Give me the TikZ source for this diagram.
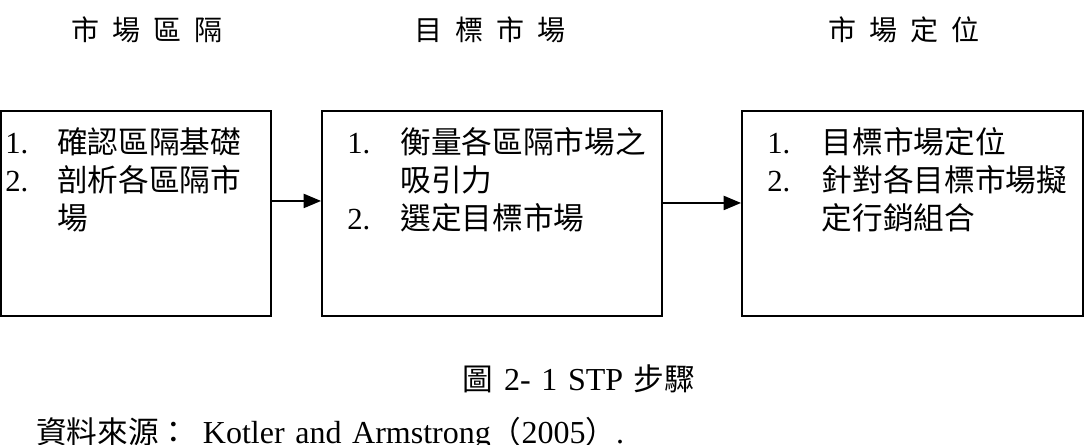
\documentclass[tikz,border=0pt]{standalone}
\usepackage{fontspec}
\setmainfont{Liberation Serif}
\newfontfamily\cjk{Noto Sans CJK TC}
\usetikzlibrary{arrows.meta}
\newcommand{\hsp}{\hspace{10pt}}
\newcommand{\zh}[1]{{\cjk\fontsize{23}{28.5}\selectfont #1}}
\newcommand{\widesp}{\spaceskip=8pt plus 2pt\relax}
\begin{document}
\begin{tikzpicture}[x=0.75pt,y=-0.75pt,
  boxnode/.style={draw, line width=1.4pt, inner sep=0pt, minimum height=153.75pt},
  txt/.style={inner sep=0pt, anchor=north west, font=\fontsize{23}{28.5}\selectfont},
  head/.style={inner sep=0pt, font=\cjk\fontsize{21}{24}\selectfont},
  captext/.style={inner sep=0pt, anchor=base, font=\fontsize{24}{28}\selectfont},
  arr/.style={line width=1.5pt, -{Stealth[length=13pt,width=10.5pt,inset=0pt]}}]
\useasboundingbox (0,0) rectangle (1089,445);
% boxes
\node[boxnode, minimum width=202.5pt] (b1) at (136,213.5) {};
\node[boxnode, minimum width=255pt] (b2) at (492,213.5) {};
\node[boxnode, minimum width=255.75pt] (b3) at (912.5,213.5) {};
% headers
\node[head] (h1) at (147,30) {市\hsp 場\hsp 區\hsp 隔};
\node[head] (h2) at (490,30) {目\hsp 標\hsp 市\hsp 場};
\node[head] (h3) at (904,30) {市\hsp 場\hsp 定\hsp 位};
% box texts
\node[txt] (t1) at (5,127) {\begin{tabular}{@{}p{39pt}@{}l@{}}
1. & \zh{確認區隔基礎}\\
2. & \zh{剖析各區隔市}\\
   & \zh{場}
\end{tabular}};
\node[txt] (t2) at (347,127) {\begin{tabular}{@{}p{40pt}@{}l@{}}
1. & \zh{衡量各區隔市場之}\\
   & \zh{吸引力}\\
2. & \zh{選定目標市場}
\end{tabular}};
\node[txt] (t3) at (767,127) {\begin{tabular}{@{}p{41pt}@{}l@{}}
1. & \zh{目標市場定位}\\
2. & \zh{針對各目標市場擬}\\
   & \zh{定行銷組合}
\end{tabular}};
% arrows
\draw[arr] ([yshift=9.4pt]b1.east) -- ([yshift=9.4pt]b2.west);
\draw[arr] ([yshift=7.9pt]b2.east) -- ([yshift=7.9pt]b3.west);
% caption
\node[captext] (cap) at (579,390) {\widesp\zh{圖} 2- 1 STP \zh{步驟}};
\node[captext, anchor=base west] (src) at (36,443) {\widesp\zh{資料來源：}\hspace{10pt}Kotler and Armstrong\zh{（}2005\zh{）}.};
\end{tikzpicture}
\end{document}
